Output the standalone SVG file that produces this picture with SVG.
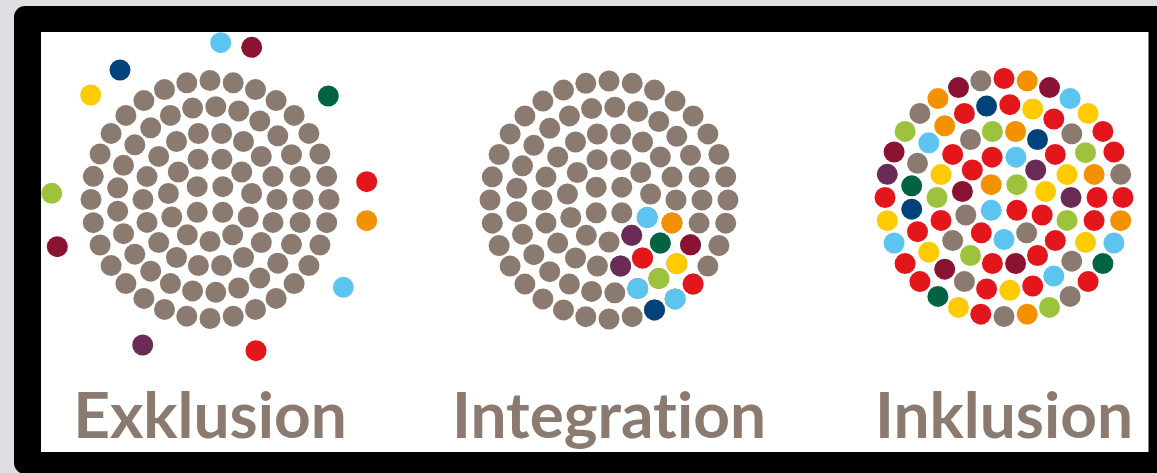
<svg xmlns="http://www.w3.org/2000/svg" xmlns:xlink="http://www.w3.org/1999/xlink" width="1157" height="473" viewBox="0 0 1157 473">
  <style>
    circle { stroke: none; }
    .g  { fill: #8b7a6f; }
    .r  { fill: #e3161b; }
    .o  { fill: #f39200; }
    .m  { fill: #8a1233; }
    .lb { fill: #5bc4ef; }
    .y  { fill: #fecb00; }
    .dg { fill: #006443; }
    .gr { fill: #9dc33c; }
    .db { fill: #00427a; }
    .p  { fill: #6a2c56; }
    .label { font-family: Lato, "Open Sans", "Liberation Sans", sans-serif; font-weight: 700; font-size: 64px; fill: #8b7a6f; text-anchor: middle; font-variant-ligatures: none; font-feature-settings: "liga" 0, "clig" 0; }
  </style>
  <defs>
    <!-- five concentric rings of dots (32, 25, 18, 11, 4), centred on 0,0 -->
    <g id="rings">
      <circle r="10.5" cx="0" cy="-119"/><circle r="10.5" cx="23.2" cy="-116.7"/><circle r="10.5" cx="45.5" cy="-109.9"/><circle r="10.5" cx="66.1" cy="-98.9"/>
      <circle r="10.5" cx="84.1" cy="-84.1"/><circle r="10.5" cx="98.9" cy="-66.1"/><circle r="10.5" cx="109.9" cy="-45.5"/><circle r="10.5" cx="116.7" cy="-23.2"/>
      <circle r="10.5" cx="119" cy="0"/><circle r="10.5" cx="116.7" cy="23.2"/><circle r="10.5" cx="109.9" cy="45.5"/><circle r="10.5" cx="98.9" cy="66.1"/>
      <circle r="10.5" cx="84.1" cy="84.1"/><circle r="10.5" cx="66.1" cy="98.9"/><circle r="10.5" cx="45.5" cy="109.9"/><circle r="10.5" cx="23.2" cy="116.7"/>
      <circle r="10.5" cx="0" cy="119"/><circle r="10.5" cx="-23.2" cy="116.7"/><circle r="10.5" cx="-45.5" cy="109.9"/><circle r="10.5" cx="-66.1" cy="98.9"/>
      <circle r="10.5" cx="-84.1" cy="84.1"/><circle r="10.5" cx="-98.9" cy="66.1"/><circle r="10.5" cx="-109.9" cy="45.5"/><circle r="10.5" cx="-116.7" cy="23.2"/>
      <circle r="10.5" cx="-119" cy="0"/><circle r="10.5" cx="-116.7" cy="-23.2"/><circle r="10.5" cx="-109.9" cy="-45.5"/><circle r="10.5" cx="-98.9" cy="-66.1"/>
      <circle r="10.5" cx="-84.1" cy="-84.1"/><circle r="10.5" cx="-66.1" cy="-98.9"/><circle r="10.5" cx="-45.5" cy="-109.9"/><circle r="10.5" cx="-23.2" cy="-116.7"/>

      <circle r="10.5" cx="5.8" cy="-92.8"/><circle r="10.5" cx="28.7" cy="-88.5"/><circle r="10.5" cx="49.8" cy="-78.5"/><circle r="10.5" cx="67.8" cy="-63.7"/>
      <circle r="10.5" cx="81.5" cy="-44.8"/><circle r="10.5" cx="90.1" cy="-23.1"/><circle r="10.5" cx="93" cy="0"/><circle r="10.5" cx="90.1" cy="23.1"/>
      <circle r="10.5" cx="81.5" cy="44.8"/><circle r="10.5" cx="67.8" cy="63.7"/><circle r="10.5" cx="49.8" cy="78.5"/><circle r="10.5" cx="28.7" cy="88.5"/>
      <circle r="10.5" cx="5.8" cy="92.8"/><circle r="10.5" cx="-17.4" cy="91.4"/><circle r="10.5" cx="-39.6" cy="84.1"/><circle r="10.5" cx="-59.3" cy="71.7"/>
      <circle r="10.5" cx="-75.2" cy="54.7"/><circle r="10.5" cx="-86.5" cy="34.2"/><circle r="10.5" cx="-92.3" cy="11.7"/><circle r="10.5" cx="-92.3" cy="-11.7"/>
      <circle r="10.5" cx="-86.5" cy="-34.2"/><circle r="10.5" cx="-75.2" cy="-54.7"/><circle r="10.5" cx="-59.3" cy="-71.7"/><circle r="10.5" cx="-39.6" cy="-84.1"/>
      <circle r="10.5" cx="-17.4" cy="-91.4"/>

      <circle r="10.5" cx="11.6" cy="-66"/><circle r="10.5" cx="33.5" cy="-58"/><circle r="10.5" cx="51.3" cy="-43.1"/><circle r="10.5" cx="63" cy="-22.9"/>
      <circle r="10.5" cx="67" cy="0"/><circle r="10.5" cx="63" cy="22.9"/><circle r="10.5" cx="51.3" cy="43.1"/><circle r="10.5" cx="33.5" cy="58"/>
      <circle r="10.5" cx="11.6" cy="66"/><circle r="10.5" cx="-11.6" cy="66"/><circle r="10.5" cx="-33.5" cy="58"/><circle r="10.5" cx="-51.3" cy="43.1"/>
      <circle r="10.5" cx="-63" cy="22.9"/><circle r="10.5" cx="-67" cy="0"/><circle r="10.5" cx="-63" cy="-22.9"/><circle r="10.5" cx="-51.3" cy="-43.1"/>
      <circle r="10.5" cx="-33.5" cy="-58"/><circle r="10.5" cx="-11.6" cy="-66"/>

      <circle r="10.5" cx="11.9" cy="-40.3"/><circle r="10.5" cx="31.7" cy="-27.5"/><circle r="10.5" cx="41.6" cy="-6"/><circle r="10.5" cx="38.2" cy="17.5"/>
      <circle r="10.5" cx="22.7" cy="35.3"/><circle r="10.5" cx="0" cy="42"/><circle r="10.5" cx="-22.7" cy="35.3"/><circle r="10.5" cx="-38.2" cy="17.5"/>
      <circle r="10.5" cx="-41.6" cy="-6"/><circle r="10.5" cx="-31.7" cy="-27.5"/><circle r="10.5" cx="-11.9" cy="-40.3"/>

      <circle r="10.5" cx="12.8" cy="-12.8"/><circle r="10.5" cx="12.8" cy="12.8"/><circle r="10.5" cx="-12.8" cy="12.8"/><circle r="10.5" cx="-12.8" cy="-12.8"/>
    </g>
  </defs>

  <!-- page background and black frame -->
  <rect x="0" y="0" width="1157" height="473" fill="#dfdee3"/>
  <rect x="14" y="6" width="1170" height="468" rx="11" fill="#000000"/>
  <rect x="41" y="32" width="1107.5" height="420" fill="#ffffff"/>

  <!-- Exklusion: closed grey circle, coloured dots left outside -->
  <g id="exklusion">
    <use xlink:href="#rings" href="#rings" class="g" transform="translate(210 199.5)"/>
    <circle r="10.5" class="lb" cx="220.7" cy="42.7"/>
    <circle r="10.5" class="m"  cx="251.7" cy="47.3"/>
    <circle r="10.5" class="db" cx="120" cy="70"/>
    <circle r="10.5" class="y"  cx="90.7" cy="95"/>
    <circle r="10.5" class="dg" cx="328.3" cy="96"/>
    <circle r="10.5" class="r"  cx="366.7" cy="181.7"/>
    <circle r="10.5" class="o"  cx="366.7" cy="220.7"/>
    <circle r="10.5" class="gr" cx="51.7" cy="193.3"/>
    <circle r="10.5" class="m"  cx="57.3" cy="246.7"/>
    <circle r="10.5" class="lb" cx="343.3" cy="287.3"/>
    <circle r="10.5" class="p"  cx="142.7" cy="345"/>
    <circle r="10.5" class="r"  cx="256" cy="350.7"/>
    <text class="label" x="210" y="438">Exklusion</text>
  </g>

  <!-- Integration: coloured dots grouped in one sector -->
  <g id="integration">
    <use xlink:href="#rings" href="#rings" class="g" transform="translate(609 200)"/>
    <g transform="translate(609 200)">
      <circle r="10.5" class="r"  cx="84.1" cy="84.1"/>
      <circle r="10.5" class="lb" cx="66.1" cy="98.9"/>
      <circle r="10.5" class="db" cx="45.5" cy="109.9"/>
      <circle r="10.5" class="m"  cx="81.5" cy="44.8"/>
      <circle r="10.5" class="y"  cx="67.8" cy="63.7"/>
      <circle r="10.5" class="gr" cx="49.8" cy="78.5"/>
      <circle r="10.5" class="lb" cx="28.7" cy="88.5"/>
      <circle r="10.5" class="o"  cx="63" cy="22.9"/>
      <circle r="10.5" class="dg" cx="51.3" cy="43.1"/>
      <circle r="10.5" class="r"  cx="33.5" cy="58"/>
      <circle r="10.5" class="p"  cx="11.6" cy="66"/>
      <circle r="10.5" class="lb" cx="38.2" cy="17.5"/>
      <circle r="10.5" class="p"  cx="22.7" cy="35.3"/>
    </g>
    <text class="label" x="609" y="438">Integration</text>
  </g>

  <!-- Inklusion: all colours mixed through every ring -->
  <g id="inklusion">
    <g transform="translate(1004 197.5)">
      <circle r="10.5" class="r"  cx="0" cy="-119"/><circle r="10.5" class="o"  cx="23.2" cy="-116.7"/><circle r="10.5" class="m"  cx="45.5" cy="-109.9"/><circle r="10.5" class="lb" cx="66.1" cy="-98.9"/>
      <circle r="10.5" class="y"  cx="84.1" cy="-84.1"/><circle r="10.5" class="r"  cx="98.9" cy="-66.1"/><circle r="10.5" class="r"  cx="109.9" cy="-45.5"/><circle r="10.5" class="g"  cx="116.7" cy="-23.2"/>
      <circle r="10.5" class="r"  cx="119" cy="0"/><circle r="10.5" class="o"  cx="116.7" cy="23.2"/><circle r="10.5" class="lb" cx="109.9" cy="45.5"/><circle r="10.5" class="dg" cx="98.9" cy="66.1"/>
      <circle r="10.5" class="r"  cx="84.1" cy="84.1"/><circle r="10.5" class="g"  cx="66.1" cy="98.9"/><circle r="10.5" class="gr" cx="45.5" cy="109.9"/><circle r="10.5" class="o"  cx="23.2" cy="116.7"/>
      <circle r="10.5" class="g"  cx="0" cy="119"/><circle r="10.5" class="r"  cx="-23.2" cy="116.7"/><circle r="10.5" class="y"  cx="-45.5" cy="109.9"/><circle r="10.5" class="dg" cx="-66.1" cy="98.9"/>
      <circle r="10.5" class="r"  cx="-84.1" cy="84.1"/><circle r="10.5" class="r"  cx="-98.9" cy="66.1"/><circle r="10.5" class="lb" cx="-109.9" cy="45.5"/><circle r="10.5" class="y"  cx="-116.7" cy="23.2"/>
      <circle r="10.5" class="r"  cx="-119" cy="0"/><circle r="10.5" class="p"  cx="-116.7" cy="-23.2"/><circle r="10.5" class="m"  cx="-109.9" cy="-45.5"/><circle r="10.5" class="gr" cx="-98.9" cy="-66.1"/>
      <circle r="10.5" class="g"  cx="-84.1" cy="-84.1"/><circle r="10.5" class="o"  cx="-66.1" cy="-98.9"/><circle r="10.5" class="m"  cx="-45.5" cy="-109.9"/><circle r="10.5" class="g"  cx="-23.2" cy="-116.7"/>

      <circle r="10.5" class="r"  cx="5.8" cy="-92.8"/><circle r="10.5" class="y"  cx="28.7" cy="-88.5"/><circle r="10.5" class="r"  cx="49.8" cy="-78.5"/><circle r="10.5" class="g"  cx="67.8" cy="-63.7"/>
      <circle r="10.5" class="gr" cx="81.5" cy="-44.8"/><circle r="10.5" class="o"  cx="90.1" cy="-23.1"/><circle r="10.5" class="r"  cx="93" cy="0"/><circle r="10.5" class="r"  cx="90.1" cy="23.1"/>
      <circle r="10.5" class="y"  cx="81.5" cy="44.8"/><circle r="10.5" class="g"  cx="67.8" cy="63.7"/><circle r="10.5" class="lb" cx="49.8" cy="78.5"/><circle r="10.5" class="r"  cx="28.7" cy="88.5"/>
      <circle r="10.5" class="y"  cx="5.8" cy="92.8"/><circle r="10.5" class="r"  cx="-17.4" cy="91.4"/><circle r="10.5" class="g"  cx="-39.6" cy="84.1"/><circle r="10.5" class="m"  cx="-59.3" cy="71.7"/>
      <circle r="10.5" class="y"  cx="-75.2" cy="54.7"/><circle r="10.5" class="r"  cx="-86.5" cy="34.2"/><circle r="10.5" class="db" cx="-92.3" cy="11.7"/><circle r="10.5" class="dg" cx="-92.3" cy="-11.7"/>
      <circle r="10.5" class="g"  cx="-86.5" cy="-34.2"/><circle r="10.5" class="lb" cx="-75.2" cy="-54.7"/><circle r="10.5" class="o"  cx="-59.3" cy="-71.7"/><circle r="10.5" class="r"  cx="-39.6" cy="-84.1"/>
      <circle r="10.5" class="db" cx="-17.4" cy="-91.4"/>

      <circle r="10.5" class="o"  cx="11.6" cy="-66"/><circle r="10.5" class="db" cx="33.5" cy="-58"/><circle r="10.5" class="r"  cx="51.3" cy="-43.1"/><circle r="10.5" class="y"  cx="63" cy="-22.9"/>
      <circle r="10.5" class="p"  cx="67" cy="0"/><circle r="10.5" class="gr" cx="63" cy="22.9"/><circle r="10.5" class="r"  cx="51.3" cy="43.1"/><circle r="10.5" class="r"  cx="33.5" cy="58"/>
      <circle r="10.5" class="m"  cx="11.6" cy="66"/><circle r="10.5" class="r"  cx="-11.6" cy="66"/><circle r="10.5" class="gr" cx="-33.5" cy="58"/><circle r="10.5" class="g"  cx="-51.3" cy="43.1"/>
      <circle r="10.5" class="r"  cx="-63" cy="22.9"/><circle r="10.5" class="gr" cx="-67" cy="0"/><circle r="10.5" class="y"  cx="-63" cy="-22.9"/><circle r="10.5" class="r"  cx="-51.3" cy="-43.1"/>
      <circle r="10.5" class="g"  cx="-33.5" cy="-58"/><circle r="10.5" class="gr" cx="-11.6" cy="-66"/>

      <circle r="10.5" class="lb" cx="11.9" cy="-40.3"/><circle r="10.5" class="p"  cx="31.7" cy="-27.5"/><circle r="10.5" class="y"  cx="41.6" cy="-6"/><circle r="10.5" class="r"  cx="38.2" cy="17.5"/>
      <circle r="10.5" class="g"  cx="22.7" cy="35.3"/><circle r="10.5" class="lb" cx="0" cy="42"/><circle r="10.5" class="r"  cx="-22.7" cy="35.3"/><circle r="10.5" class="g"  cx="-38.2" cy="17.5"/>
      <circle r="10.5" class="m"  cx="-41.6" cy="-6"/><circle r="10.5" class="r"  cx="-31.7" cy="-27.5"/><circle r="10.5" class="r"  cx="-11.9" cy="-40.3"/>

      <circle r="10.5" class="gr" cx="12.8" cy="-12.8"/><circle r="10.5" class="r"  cx="12.8" cy="12.8"/><circle r="10.5" class="lb" cx="-12.8" cy="12.8"/><circle r="10.5" class="o"  cx="-12.8" cy="-12.8"/>
    </g>
    <text class="label" x="1004" y="438">Inklusion</text>
  </g>
</svg>
